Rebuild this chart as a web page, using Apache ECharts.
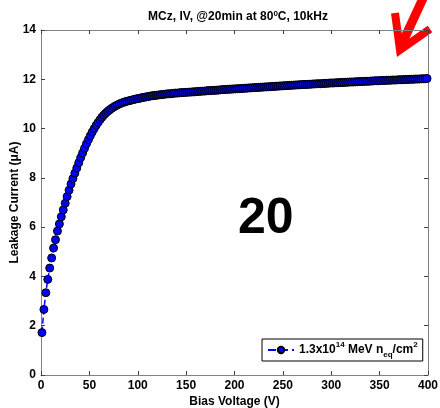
<!DOCTYPE html>
<html><head><meta charset="utf-8">
<script src="https://cdn.jsdelivr.net/npm/echarts@6/dist/echarts.min.js"></script>
<style>html,body{margin:0;padding:0;background:#fff}#c{width:440px;height:408px}</style>
</head><body><div id="c"></div>
<script>
const titleText = "MCz, IV, @20min at 80";
const xTickMin = 0, xTickMax = 400, xTickStep = 50;
const yTickMin = 0, yTickMax = 14, yTickStep = 2;
const xName = "Bias Voltage (V)";
const yName = "Leakage Current (\u03bcA)";
const seriesName = "1.3x10^14 MeV neq/cm2";
const voltages = [
1,3,5,7,9,11,13,15,17,19,21,23,25,27,29,31,33,35,37,39,41,43,45,47,
49,51,53,55,57,59,61,63,65,67,69,71,73,75,77,79,81,83,85,87,89,91,93,95,97,99,
101,103,105,107,109,111,113,115,117,119,121,123,125,127,129,131,133,135,137,139,141,143,145,147,149,
151,153,155,157,159,161,163,165,167,169,171,173,175,177,179,181,183,185,187,189,191,193,195,197,199,
201,203,205,207,209,211,213,215,217,219,221,223,225,227,229,231,233,235,237,239,241,243,245,247,249,
251,253,255,257,259,261,263,265,267,269,271,273,275,277,279,281,283,285,287,289,291,293,295,297,299,
301,303,305,307,309,311,313,315,317,319,321,323,325,327,329,331,333,335,337,339,341,343,345,347,349,
351,353,355,357,359,361,363,365,367,369,371,373,375,377,379,381,383,385,387,389,391,393,395,397,399];
const currents = [
1.72,2.66,3.34,3.88,4.34,4.75,5.15,5.49,5.84,6.13,6.42,6.70,6.97,7.24,7.50,7.75,7.97,8.19,8.40,8.61,8.82,9.01,9.20,9.38,
9.55,9.71,9.86,10.00,10.13,10.25,10.36,10.46,10.55,10.63,10.70,10.76,10.82,10.87,10.92,10.96,11.00,11.03,11.06,11.09,11.11,11.13,11.15,11.17,11.19,11.21,
11.22,11.24,11.26,11.27,11.29,11.30,11.32,11.33,11.34,11.35,11.36,11.37,11.38,11.39,11.40,11.41,11.41,11.42,11.43,11.44,11.44,11.45,11.46,11.46,11.47,
11.47,11.48,11.48,11.49,11.49,11.50,11.51,11.51,11.52,11.52,11.53,11.54,11.54,11.55,11.55,11.56,11.56,11.57,11.58,11.58,11.59,11.59,11.60,11.60,11.61,
11.61,11.62,11.62,11.63,11.63,11.64,11.64,11.65,11.65,11.66,11.66,11.67,11.67,11.68,11.68,11.69,11.69,11.70,11.70,11.71,11.71,11.72,11.72,11.73,11.73,
11.74,11.74,11.75,11.75,11.76,11.76,11.77,11.77,11.78,11.78,11.79,11.79,11.79,11.80,11.80,11.81,11.81,11.82,11.82,11.82,11.83,11.83,11.84,11.84,11.85,
11.85,11.85,11.86,11.86,11.87,11.87,11.87,11.88,11.88,11.89,11.89,11.89,11.90,11.90,11.91,11.91,11.91,11.92,11.92,11.92,11.93,11.93,11.94,11.94,11.94,
11.95,11.95,11.95,11.96,11.96,11.96,11.97,11.97,11.97,11.98,11.98,11.98,11.99,11.99,11.99,12.00,12.00,12.00,12.01,12.01,12.01,12.02,12.02,12.02,12.03];
const annotation = "20";

const chart = echarts.init(document.getElementById('c'), null, {renderer:'canvas'});
const FF = 'Liberation Sans, Arial, sans-serif';
const axisColor = '#808080';
const tickStyle = {show:true, inside:true, length:4, lineStyle:{color:'#404040', width:1}};
const data = voltages.map((v,i)=>[v, currents[i]]);
const baseX = {type:'value', min:xTickMin, max:xTickMax, interval:xTickStep,
  axisLine:{show:true, onZero:false, lineStyle:{color:axisColor, width:1}},
  axisTick:tickStyle, splitLine:{show:false}};
const baseY = {type:'value', min:yTickMin, max:yTickMax, interval:yTickStep,
  axisLine:{show:true, onZero:false, lineStyle:{color:axisColor, width:1}},
  axisTick:tickStyle, splitLine:{show:false}};
chart.setOption({
  animation:false,
  backgroundColor:'#fff',
  title:{text:'{t|'+titleText+'}{s|0}{t|C, 10kHz}', left:233, textAlign:'center', top:4,
    textStyle:{rich:{
      t:{fontFamily:FF, fontWeight:'bold', fontSize:12, color:'#000', lineHeight:14, verticalAlign:'bottom'},
      s:{fontFamily:FF, fontWeight:'bold', fontSize:8, color:'#000', lineHeight:14, verticalAlign:'bottom', padding:[0,0,5,0]}}}},
  grid:{left:41, right:12, top:30, bottom:33, containLabel:false, outerBoundsMode:'none'},
  xAxis:[
    Object.assign({}, baseX, {position:'bottom', name:xName, nameLocation:'middle', nameGap:21, nameMoveOverlap:false,
      nameTextStyle:{fontFamily:FF, fontWeight:'bold', fontSize:12, color:'#000'},
      axisLabel:{show:true, margin:5, fontFamily:FF, fontWeight:'bold', fontSize:12, color:'#000'}}),
    Object.assign({}, baseX, {position:'top', axisLabel:{show:false}})
  ],
  yAxis:[
    Object.assign({}, baseY, {position:'left', name:yName, nameLocation:'middle', nameGap:20, nameMoveOverlap:false,
      nameTextStyle:{fontFamily:FF, fontWeight:'bold', fontSize:12, color:'#000'},
      axisLabel:{show:true, margin:5, fontFamily:FF, fontWeight:'bold', fontSize:12, color:'#000'}}),
    Object.assign({}, baseY, {position:'right', axisLabel:{show:false}})
  ],
  legend:{show:true, left:262, top:339, orient:'horizontal',
    backgroundColor:'#fff', borderColor:'#000', borderWidth:1, padding:[2,5,2,5],
    itemWidth:26, itemHeight:8, itemGap:2,
    formatter:function(){return '{a|1.3x10}{s|14}{a| MeV n}{b|eq}{a|/cm}{s|2}';},
    textStyle:{rich:{
      a:{fontFamily:FF, fontWeight:'bold', fontSize:12, color:'#000', lineHeight:18, verticalAlign:'middle'},
      s:{fontFamily:FF, fontWeight:'bold', fontSize:8, color:'#000', lineHeight:18, verticalAlign:'top'},
      b:{fontFamily:FF, fontWeight:'bold', fontSize:8, color:'#000', lineHeight:18, verticalAlign:'bottom'}}}},
  series:[{
    name:seriesName, type:'line', xAxisIndex:0, yAxisIndex:0, data:data,
    symbol:'circle', symbolSize:8, showSymbol:true,
    itemStyle:{color:'#0000ff', borderColor:'#000', borderWidth:1},
    lineStyle:{color:'#0000ff', width:1.5, type:'dashed'}
  }],
  graphic:[
    {type:'text', left:238, top:194, style:{text:annotation, font:'bold 50px '+FF, fill:'#000'}},
    {type:'polyline', shape:{points:[[425,-6],[401,46]]}, style:{stroke:'#ff0000', lineWidth:9, fill:null}},
    {type:'polyline', shape:{points:[[395,13],[400,50],[430,29]]}, style:{stroke:'#ff0000', lineWidth:8, fill:null, lineJoin:'miter'}}
  ]
});
</script></body></html>
